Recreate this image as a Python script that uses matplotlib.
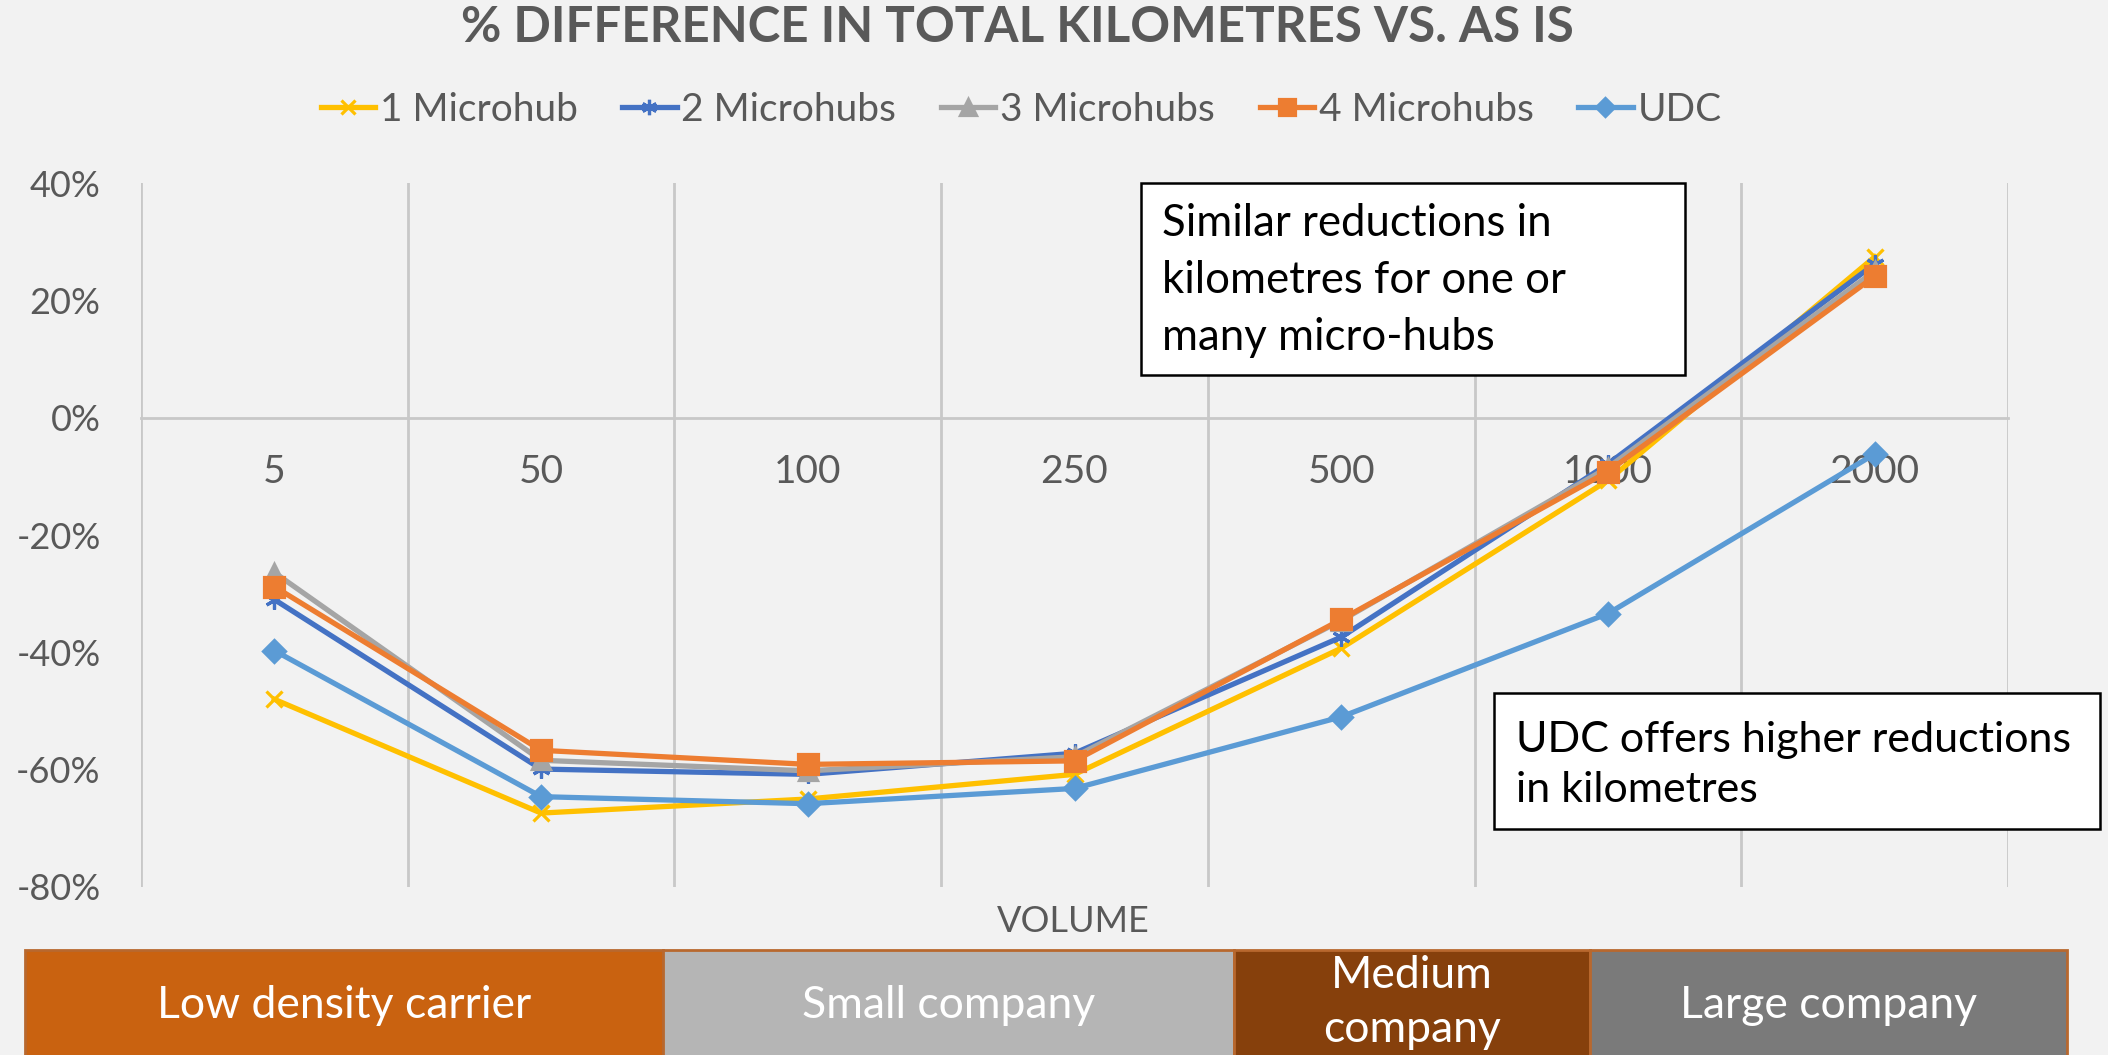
import matplotlib
matplotlib.use("Agg")
import matplotlib.pyplot as plt
from matplotlib.patches import Rectangle
import numpy as np

plt.rcParams['font.family'] = ['Lato', 'DejaVu Sans']

# ---------------- data ----------------
categories = ["5", "50", "100", "250", "500", "1000", "2000"]
one_microhub = [-48.0, -67.4, -65.0, -60.8, -39.3, -10.7, 27.4]
two_microhubs = [-31.0, -59.9, -60.8, -57.2, -37.4, -7.9, 26.2]
three_microhubs = [-26.4, -58.4, -60.2, -57.8, -34.6, -8.5, 25.0]
four_microhubs = [-28.8, -56.7, -59.1, -58.5, -34.4, -9.2, 24.1]
udc = [-39.7, -64.6, -65.8, -63.2, -51.0, -33.4, -6.2]
series_names = ["1 Microhub", "2 Microhubs", "3 Microhubs", "4 Microhubs", "UDC"]
y_ticks = [-80, -60, -40, -20, 0, 20, 40]
segment_labels = ["Low density carrier", "Small company", "Medium\ncompany", "Large company"]

# ---------------- styles ----------------
W, H = 2108, 1055
BG = '#F2F2F2'
TXT = '#595959'
GRID = '#C8C8C8'
colors = ['#FFC000', '#4472C4', '#A5A5A5', '#ED7D31', '#5B9BD5']
markers = ['x', (6, 2, 0), '^', 's', 'D']
msizes = [12, 13, 13, 14, 11]

fig = plt.figure(figsize=(W / 100, H / 100), dpi=100, facecolor=BG)

def fx(px):
    return px / W

def fy(py):
    return 1 - py / H

ax = fig.add_axes([fx(141), fy(887), fx(2008) - fx(141), (887 - 183) / H])
ax.set_facecolor(BG)
x = np.arange(len(categories))
all_series = [one_microhub, two_microhubs, three_microhubs, four_microhubs, udc]
handles = []
for vals, name, c, m, ms in zip(all_series, series_names, colors, markers, msizes):
    ln, = ax.plot(x, np.array(vals) / 100.0, color=c, lw=3.8, marker=m, ms=ms,
                  mew=2.3, mec=c, mfc=c, label=name, zorder=3, solid_joinstyle='round')
    handles.append(ln)

ax.set_xlim(-0.5, len(categories) - 0.5)
ax.set_ylim(-0.8, 0.4)
ax.set_xticks(x)
ax.set_xticklabels(categories)
ax.set_xticks(np.arange(-0.5, len(categories)), minor=True)
ax.grid(which='minor', axis='x', color=GRID, lw=2, zorder=0)
ax.grid(which='major', axis='both', visible=False)
ax.set_yticks(np.array(y_ticks) / 100.0)
ax.set_yticklabels([f"{v}%" for v in y_ticks])

for s in ['top', 'right', 'left']:
    ax.spines[s].set_visible(False)
ax.spines['bottom'].set_position(('data', 0))
ax.spines['bottom'].set_color(GRID)
ax.spines['bottom'].set_linewidth(2)
ax.spines['bottom'].set_zorder(1)
ax.tick_params(axis='x', which='both', length=0, pad=26, labelsize=28, labelcolor=TXT)
ax.tick_params(axis='y', which='both', length=0, pad=29, labelsize=26, labelcolor=TXT)

# title
fig.text(fx(1017), fy(27), "% DIFFERENCE IN TOTAL KILOMETRES VS. AS IS", ha='center', va='center',
         fontsize=35.5, fontweight='bold', color=TXT)

# legend
fig.legend(handles=handles, labels=series_names, ncol=5, loc='center',
           bbox_to_anchor=(fx(1021), fy(110)), frameon=False, fontsize=28,
           handlelength=1.4, handletextpad=0.12, columnspacing=1.15, labelcolor=TXT,
           markerscale=0.85)

# axis title
fig.text(fx(1073), fy(921), "VOLUME", ha='center', va='center', fontsize=26, color=TXT)

# annotation boxes
fig.patches.append(Rectangle((fx(1141), fy(375)), fx(1685) - fx(1141), (375 - 183) / H,
                             transform=fig.transFigure, facecolor='white', edgecolor='black',
                             lw=1.8, zorder=5))
for txt, py in zip(["Similar reductions in", "kilometres for one or", "many micro-hubs"], [223, 280, 337]):
    fig.text(fx(1162), fy(py), txt, ha='left', va='center', fontsize=31.5, color='black', zorder=6)

fig.patches.append(Rectangle((fx(1494), fy(829)), fx(2100) - fx(1494), (829 - 693) / H,
                             transform=fig.transFigure, facecolor='white', edgecolor='black',
                             lw=1.8, zorder=5))
for txt, py in zip(["UDC offers higher reductions", "in kilometres"], [740, 790]):
    fig.text(fx(1516), fy(py), txt, ha='left', va='center', fontsize=31, color='black', zorder=6)

# bottom band
seg_edges = [25, 663, 1234, 1590, 2067]
seg_colors = ['#C96210', '#B5B5B5', '#86400C', '#7A7A7A']
for i, (lab, col) in enumerate(zip(segment_labels, seg_colors)):
    x0, x1 = seg_edges[i], seg_edges[i + 1]
    fig.patches.append(Rectangle((fx(x0), fy(1070)), fx(x1) - fx(x0), (1070 - 950) / H,
                                 transform=fig.transFigure, facecolor=col, edgecolor='#B8682E',
                                 lw=2, zorder=2))
    cx = (x0 + x1) / 2
    if "\n" in lab:
        for part, py in zip(lab.split("\n"), [976, 1030]):
            fig.text(fx(cx), fy(py), part, ha='center', va='center', fontsize=32, color='white', zorder=3)
    else:
        fig.text(fx(cx), fy(1005), lab, ha='center', va='center', fontsize=32, color='white', zorder=3)

fig.savefig("out.png", dpi=100, facecolor=BG)
